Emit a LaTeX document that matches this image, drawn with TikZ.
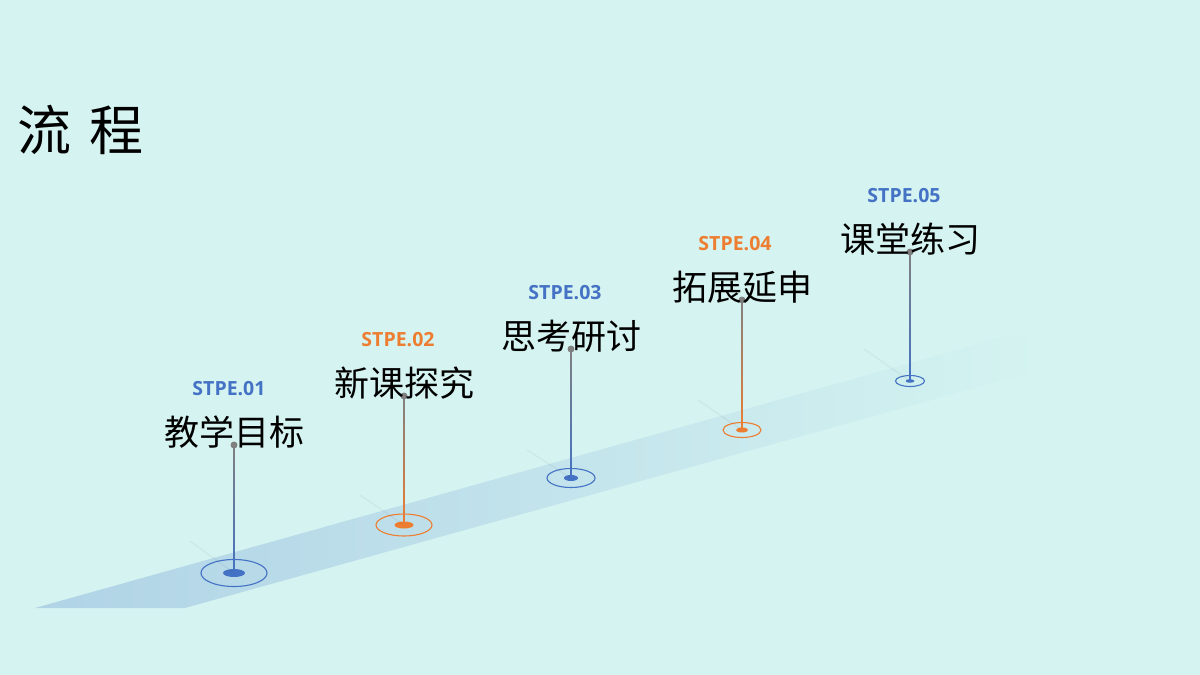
\documentclass[tikz,border=0pt]{standalone}
\usepackage{fontspec}
\newfontfamily\cjk{Noto Sans CJK SC}
\newfontfamily\latin{Open Sans}
\usetikzlibrary{calc,positioning,shapes.geometric}
\definecolor{bgmint}{RGB}{213,244,241}
\definecolor{road}{RGB}{176,211,230}
\definecolor{stepblue}{RGB}{68,114,196}
\definecolor{steporange}{RGB}{237,125,49}
\definecolor{pole}{RGB}{128,128,128}

\begin{document}
\begin{tikzpicture}[
  x=1pt, y=-1pt,
  title/.style={font=\cjk\fontsize{54}{58}\selectfont, inner sep=0, anchor=base west},
  task/.style={font=\cjk\fontsize{35}{38}\selectfont, inner sep=0, anchor=base},
  stepno/.style={font=\latin\bfseries\fontsize{19.5}{22}\selectfont, inner sep=0},
  knob/.style={circle, fill=pole, inner sep=0, minimum size=7pt},
  ring/.style={ellipse, draw, line width=1.1pt, inner sep=0},
  hub/.style={ellipse, fill, inner sep=0},
  ghost/.style={draw=black, opacity=0.04, line width=1.5pt}
]
% background and road
\fill[bgmint] (0,0) rectangle (1200,675);
\shade[left color=road, middle color=road!50!bgmint, right color=bgmint]
  (35,608) -- (185,608) -- (1068,362) -- (1060,348) -- (1010,335) -- cycle;

\node[title] (ttl) at (17,150) {流\hspace{18pt}程};

% pins
\node[ring, draw=stepblue, minimum width=66pt, minimum height=27pt] (r1) at (234,573) {};
\node[ring, draw=steporange, minimum width=56pt, minimum height=22pt] (r2) at (404,525) {};
\node[ring, draw=stepblue, minimum width=48pt, minimum height=19pt] (r3) at (571,478) {};
\node[ring, draw=steporange, minimum width=38pt, minimum height=15pt] (r4) at (742,430) {};
\node[ring, draw=stepblue, minimum width=29pt, minimum height=11pt] (r5) at (910,381) {};

\node[hub, fill=stepblue, minimum width=22pt, minimum height=8pt] (h1) at (r1) {};
\node[hub, fill=steporange, minimum width=19pt, minimum height=7pt] (h2) at (r2) {};
\node[hub, fill=stepblue, minimum width=14pt, minimum height=6pt] (h3) at (r3) {};
\node[hub, fill=steporange, minimum width=12pt, minimum height=5pt] (h4) at (r4) {};
\node[hub, fill=stepblue, minimum width=9pt, minimum height=3.5pt] (h5) at (r5) {};

\coordinate (k1) at (234,445);
\coordinate (k2) at (404,396);
\coordinate (k3) at (571,349);
\coordinate (k4) at (742,300);
\coordinate (k5) at (910,252);

\draw[ghost] (r1.center) -- ++(-44,-32);
\draw[ghost] (r2.center) -- ++(-44,-30);
\draw[ghost] (r3.center) -- ++(-44,-28);
\draw[ghost] (r4.center) -- ++(-44,-30);
\draw[ghost] (r5.center) -- ++(-46,-32);

\shade[top color=pole, bottom color=stepblue] ($(k1)+(-0.7,0)$) rectangle ($(r1.center)+(0.7,0)$);
\shade[top color=pole, bottom color=steporange] ($(k2)+(-0.7,0)$) rectangle ($(r2.center)+(0.7,0)$);
\shade[top color=pole, bottom color=stepblue] ($(k3)+(-0.7,0)$) rectangle ($(r3.center)+(0.7,0)$);
\shade[top color=pole, bottom color=steporange] ($(k4)+(-0.7,0)$) rectangle ($(r4.center)+(0.7,0)$);
\shade[top color=pole, bottom color=stepblue] ($(k5)+(-0.7,0)$) rectangle ($(r5.center)+(0.7,0)$);

\node[knob] (n1) at (k1) {};
\node[knob] (n2) at (k2) {};
\node[knob] (n3) at (k3) {};
\node[knob] (n4) at (k4) {};
\node[knob] (n5) at (k5) {};

% labels
\node[task] (t1) at (k1) {教学目标};
\node[task] (t2) at (k2) {新课探究};
\node[task] (t3) at (k3) {思考研讨};
\node[task] (t4) at (k4) {拓展延申};
\node[task] (t5) at (k5) {课堂练习};

\node[stepno, text=stepblue, above=19pt of t1, xshift=-5pt] (s1) {STPE.01};
\node[stepno, text=steporange, above=19pt of t2, xshift=-6pt] (s2) {STPE.02};
\node[stepno, text=stepblue, above=19pt of t3, xshift=-6pt] (s3) {STPE.03};
\node[stepno, text=steporange, above=19pt of t4, xshift=-7pt] (s4) {STPE.04};
\node[stepno, text=stepblue, above=19pt of t5, xshift=-6pt] (s5) {STPE.05};
\end{tikzpicture}
\end{document}
